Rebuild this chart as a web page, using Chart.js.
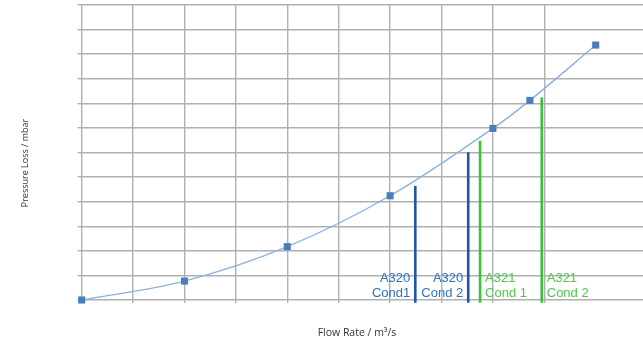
<!DOCTYPE html>
<html>
<head>
<meta charset="utf-8">
<script src="https://cdn.jsdelivr.net/npm/chart.js@4.4.1/dist/chart.umd.min.js"></script>
<style>
html,body{margin:0;padding:0;background:#fff;}
#wrap{width:643px;height:340px;position:relative;}
</style>
</head>
<body>
<div id="wrap"><canvas id="c" width="643" height="340"></canvas></div>
<script>
// Curve data
const flowRate = [0, 2, 4, 6, 8, 8.72, 10];
const pressureLoss = [0, 0.77, 2.17, 4.24, 6.98, 8.12, 10.37];

// Aircraft condition markers
const condNames = [['A320', 'Cond1'], ['A320', 'Cond 2'], ['A321', 'Cond 1'], ['A321', 'Cond 2']];
const condFlow = [6.49, 7.52, 7.75, 8.95];
const condPressure = [4.64, 6.01, 6.48, 8.24];
const condBase = -0.11;
const condColors = ['#1b58a6', '#1b58a6', '#38c238', '#38c238'];
const condTextColors = ['#2f72bf', '#2f72bf', '#4cc84c', '#4cc84c'];
const condSide = ['left', 'left', 'right', 'right'];

const xTitle = 'Flow Rate / m³/s';
const yTitle = 'Pressure Loss / mbar';

const curveData = flowRate.map((x, i) => ({x: x, y: pressureLoss[i]}));

const condDatasets = condFlow.map((x, i) => ({
  type: 'line',
  data: [{x: x, y: condBase}, {x: x, y: condPressure[i]}],
  borderColor: condColors[i],
  borderWidth: 2.6,
  pointRadius: 0,
  clip: false,
  order: 2
}));

const labelPlugin = {
  id: 'labels',
  afterDatasetsDraw(chart) {
    const ctx = chart.ctx;
    const xs = chart.scales.x;
    const area = chart.chartArea;
    ctx.save();
    ctx.font = '13px "Liberation Sans", Arial, sans-serif';
    ctx.textBaseline = 'alphabetic';
    condNames.forEach((lines, i) => {
      const px = xs.getPixelForValue(condFlow[i]);
      ctx.fillStyle = condTextColors[i];
      if (condSide[i] === 'left') {
        ctx.textAlign = 'right';
        ctx.fillText(lines[0], px - 5, area.bottom - 18);
        ctx.fillText(lines[1], px - 5, area.bottom - 3);
      } else {
        ctx.textAlign = 'left';
        ctx.fillText(lines[0], px + 5, area.bottom - 18);
        ctx.fillText(lines[1], px + 5, area.bottom - 3);
      }
    });
    // axis titles
    ctx.fillStyle = '#333333';
    ctx.textAlign = 'center';
    ctx.textBaseline = 'middle';
    ctx.font = '10.5px "Open Sans", sans-serif';
    ctx.fillText(xTitle, 357, 333);
    ctx.font = '9px "Open Sans", sans-serif';
    ctx.translate(25, 163);
    ctx.rotate(-Math.PI / 2);
    ctx.fillText(yTitle, 0, 0);
    ctx.restore();
  }
};

new Chart(document.getElementById('c'), {
  type: 'line',
  data: {
    datasets: [
      {
        data: curveData,
        borderColor: '#8cb1de',
        borderWidth: 1.4,
        tension: 0.35,
        pointStyle: 'rect',
        pointRadius: 5,
        pointBorderWidth: 0,
        pointBackgroundColor: '#4a7ebb',
        pointBorderColor: '#4a7ebb',
        clip: false,
        order: 1
      },
      ...condDatasets
    ]
  },
  options: {
    responsive: false,
    animation: false,
    events: [],
    layout: {autoPadding: false, padding: {top: 5, left: 0, right: 0, bottom: 0}},
    plugins: {legend: {display: false}, tooltip: {enabled: false}},
    scales: {
      x: {
        type: 'linear',
        min: 0,
        max: 10.92,
        ticks: {display: false, stepSize: 1},
        afterBuildTicks: (axis) => { axis.ticks = axis.ticks.filter(t => Number.isInteger(t.value)); },
        afterFit: (axis) => { axis.height = 40; },
        grid: {color: '#b0b0b0', lineWidth: 1.4, tickLength: 3, drawTicks: true},
        border: {display: false}
      },
      y: {
        type: 'linear',
        min: 0,
        max: 12,
        ticks: {display: false, stepSize: 1},
        afterFit: (axis) => { axis.width = 81.7; },
        grid: {color: '#b0b0b0', lineWidth: 1.4, tickLength: 4, drawTicks: true},
        border: {display: false}
      }
    }
  },
  plugins: [labelPlugin]
});
</script>
</body>
</html>
